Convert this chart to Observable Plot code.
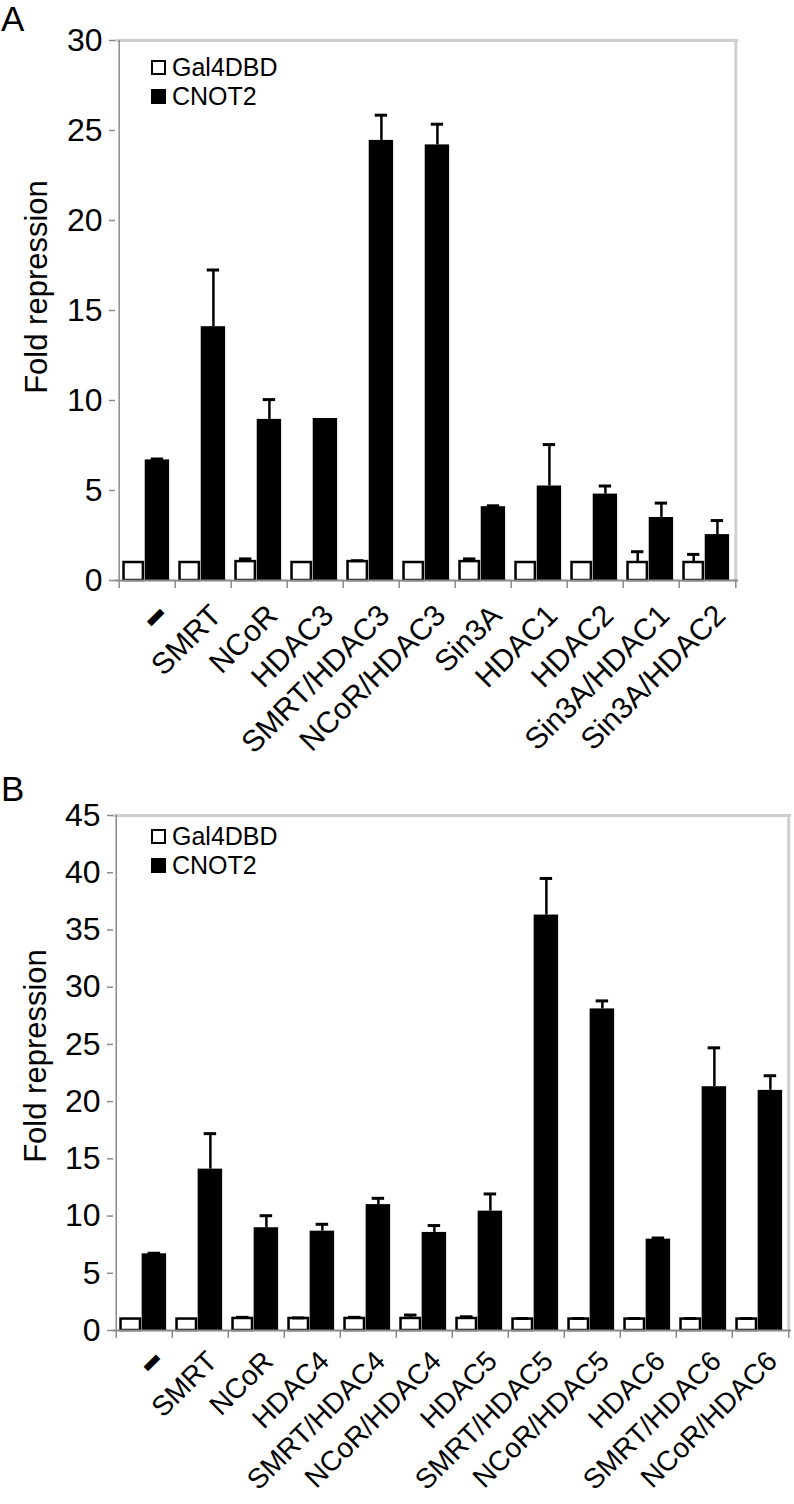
<!DOCTYPE html>
<html>
<head>
<meta charset="utf-8">
<script src="https://cdn.jsdelivr.net/npm/d3@7"></script>
<script src="https://cdn.jsdelivr.net/npm/@observablehq/plot@0.6"></script>
<style>
  html, body { margin: 0; padding: 0; background: #fff; }
  #root { position: relative; width: 794px; height: 1504px; overflow: hidden; font-family: "Liberation Sans", Arial, sans-serif; color: #000; }
  #root svg { display: block; }
  #root svg g[aria-label="y-axis tick label"] text { font-size: 32px; }
  .abs { position: absolute; white-space: nowrap; line-height: 1; }
  .ptitle { font-size: 35px; }
  .ytitle { font-size: 31px; transform: translate(-50%, -50%) rotate(-90deg); }
  .leg { font-size: 25px; display: flex; align-items: center; }
  .sw { width: 11px; height: 11px; border: 2.5px solid #000; margin-right: 6px; }
</style>
</head>
<body>
<div id="root"></div>
<script>
// ---- Panel A data ----
const catsA = ["–","SMRT","NCoR","HDAC3","SMRT/HDAC3","NCoR/HDAC3","Sin3A","HDAC1","HDAC2","Sin3A/HDAC1","Sin3A/HDAC2"];
const gal4A = [1.0,1.0,1.05,1.0,1.05,1.0,1.05,1.0,1.0,1.0,1.0];
const gal4ErrA = [0,0,0.15,0,0.05,0,0.15,0,0,0.6,0.45];
const cnot2A = [6.7,14.1,8.95,9.0,24.45,24.2,4.1,5.25,4.8,3.5,2.55];
const cnot2ErrA = [0.05,3.15,1.1,0,1.4,1.15,0.05,2.3,0.45,0.8,0.78];
const yTicksA = [0,5,10,15,20,25,30];

// ---- Panel B data ----
const catsB = ["–","SMRT","NCoR","HDAC4","SMRT/HDAC4","NCoR/HDAC4","HDAC5","SMRT/HDAC5","NCoR/HDAC5","HDAC6","SMRT/HDAC6","NCoR/HDAC6"];
const gal4B = [1.0,1.0,1.05,1.05,1.05,1.05,1.05,1.0,1.0,1.0,1.0,1.0];
const gal4ErrB = [0,0,0.1,0.05,0.1,0.3,0.15,0.05,0.05,0.05,0.05,0.05];
const cnot2B = [6.7,14.1,8.98,8.68,11.0,8.57,10.43,36.3,28.1,7.98,21.3,20.98];
const cnot2ErrB = [0.05,3.1,1.05,0.6,0.55,0.6,1.5,3.2,0.7,0.1,3.4,1.28];
const yTicksB = [0,5,10,15,20,25,30,35,40,45];

const seriesNames = ["Gal4DBD","CNOT2"];
const yTitle = "Fold repression";

function panel({cats, white, whiteErr, black, blackErr, yTicks, width, height, ml, mr, mt, mb, labelSize, labelPad, labelDx}) {
  const rows = cats.map((c, i) => ({cat: c, w: white[i], we: whiteErr[i], b: black[i], be: blackErr[i]}));
  const bw = (width - ml - mr) / cats.length;
  const plotH = height - mt - mb;
  const ymax = yTicks[yTicks.length - 1];
  const wL = 0.08 * bw, wR = bw - 0.433 * bw;      // white bar
  const bL = 0.454 * bw, bR = bw - 0.896 * bw;     // black bar
  const wC = (wL + (bw - wR)) / 2, bC = (bL + (bw - bR)) / 2;
  const cap = 6.5;
  const grid = "#cfcfcf", axisCol = "#8a8a8a";
  const svg = Plot.plot({
    width, height,
    marginLeft: ml, marginRight: mr, marginTop: mt, marginBottom: mb,
    style: {fontFamily: '"Liberation Sans", Arial, sans-serif', fontSize: "30px", color: "#000", background: "#fff", overflow: "visible"},
    x: {domain: cats, padding: 0, axis: null},
    y: {domain: [0, ymax], axis: null},
    marks: [
      Plot.ruleY([ymax], {stroke: grid, strokeWidth: 3}),
      Plot.ruleX([cats[cats.length - 1]], {dx: bw / 2, stroke: grid, strokeWidth: 3}),
      Plot.barY(rows, {x: "cat", y: "w", fill: "#fff", stroke: "#000", strokeWidth: 2.5, insetLeft: wL, insetRight: wR}),
      Plot.barY(rows, {x: "cat", y: "b", fill: "#000", insetLeft: bL, insetRight: bR}),
      Plot.ruleX(rows.filter(d => d.be > 0), {x: "cat", y1: "b", y2: d => d.b + d.be, dx: bC - bw / 2, stroke: "#000", strokeWidth: 2.5}),
      Plot.tickY(rows.filter(d => d.be > 0), {x: "cat", y: d => d.b + d.be, insetLeft: bC - cap, insetRight: bw - bC - cap, stroke: "#000", strokeWidth: 3}),
      Plot.ruleX(rows.filter(d => d.we > 0), {x: "cat", y1: "w", y2: d => d.w + d.we, dx: wC - bw / 2, stroke: "#000", strokeWidth: 2.5}),
      Plot.tickY(rows.filter(d => d.we > 0), {x: "cat", y: d => d.w + d.we, insetLeft: wC - cap, insetRight: bw - wC - cap, stroke: "#000", strokeWidth: 3}),
      Plot.ruleX([cats[0]], {dx: -bw / 2, stroke: axisCol, strokeWidth: 1.5}),
      Plot.ruleY([0], {stroke: axisCol, strokeWidth: 2}),
      Plot.ruleX(cats, {x: d => d, dx: -bw / 2, insetTop: plotH, insetBottom: -8, stroke: axisCol, strokeWidth: 1.5}),
      Plot.ruleX([cats[cats.length - 1]], {dx: bw / 2, insetTop: plotH, insetBottom: -8, stroke: axisCol, strokeWidth: 1.5}),
      Plot.axisY({ticks: yTicks, tickSize: 6, tickPadding: 7, label: null, stroke: axisCol, fill: "#000", strokeWidth: 1.5}),
      Plot.axisX({tickSize: 0, tickRotate: -45, tickPadding: labelPad, dx: labelDx, label: null, fill: "#000"})
    ]
  });
  svg.querySelectorAll('g[aria-label="x-axis tick label"] text').forEach(el => { el.style.fontSize = labelSize + "px"; });
  const t = svg.querySelector('g[aria-label="x-axis tick label"] text');
  if (t) { t.setAttribute("font-weight", "bold"); t.setAttribute("stroke", "#000"); t.setAttribute("stroke-width", "3.5"); }
  return svg;
}

const root = document.getElementById("root");
const W = 794;

const svgA = panel({cats: catsA, white: gal4A, whiteErr: gal4ErrA, black: cnot2A, blackErr: cnot2ErrA, yTicks: yTicksA,
  width: W, height: 770, ml: 115, mr: 56, mt: 40, mb: 190, labelSize: 30, labelPad: 30, labelDx: 13});
const svgB = panel({cats: catsB, white: gal4B, whiteErr: gal4ErrB, black: cnot2B, blackErr: cnot2ErrB, yTicks: yTicksB,
  width: W, height: 734, ml: 113, mr: 3, mt: 45, mb: 174, labelSize: 28, labelPad: 26, labelDx: 12});
root.appendChild(svgA);
root.appendChild(svgB);

function addDiv(cls, text, style) {
  const d = document.createElement("div");
  d.className = "abs " + cls;
  if (text !== null) d.textContent = text;
  Object.assign(d.style, style);
  root.appendChild(d);
  return d;
}
function legend(x, y) {
  seriesNames.forEach((name, i) => {
    const row = addDiv("leg", null, {left: x + "px", top: (y + i * 29) + "px"});
    const sw = document.createElement("span");
    sw.className = "sw";
    sw.style.background = i === 0 ? "#fff" : "#000";
    row.appendChild(sw);
    const tx = document.createElement("span");
    tx.textContent = name;
    row.appendChild(tx);
  });
}

addDiv("ptitle", "A", {left: "1px", top: "1px"});
addDiv("ytitle", yTitle, {left: "36px", top: "287px"});
legend(151, 55);

addDiv("ptitle", "B", {left: "1px", top: "771px"});
addDiv("ytitle", yTitle, {left: "35px", top: "1056px"});
legend(151, 824);
</script>
</body>
</html>
